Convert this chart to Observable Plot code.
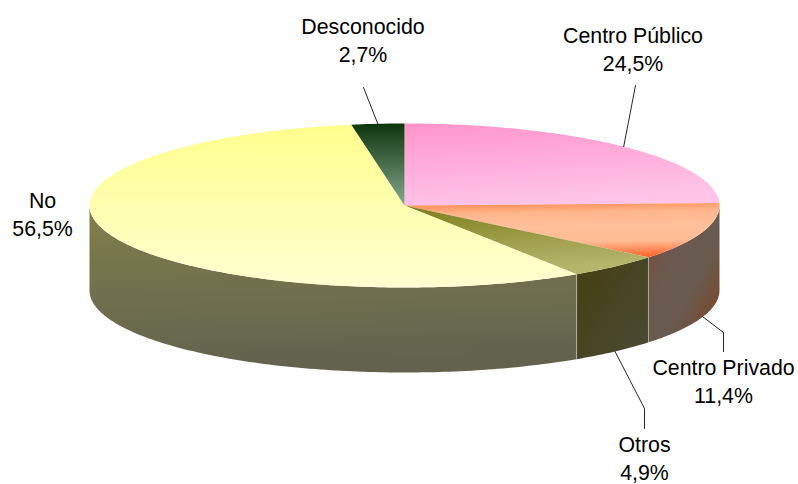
<!DOCTYPE html>
<html>
<head>
<meta charset="utf-8">
<style>html,body{margin:0;padding:0;background:#fff}svg{display:block}</style>
<script src="https://cdn.jsdelivr.net/npm/d3@7"></script>
<script src="https://cdn.jsdelivr.net/npm/@observablehq/plot@0.6"></script>
</head>
<body>
<div id="chart"></div>
<script>
// Data, clockwise from twelve o'clock
const categories = ["Centro Público", "Centro Privado", "Otros", "No", "Desconocido"];
const shares = [24.5, 11.4, 4.9, 56.5, 2.7];
const shareLabels = ["24,5%", "11,4%", "4,9%", "56,5%", "2,7%"];

// Layout (pixels)
const W = 798, H = 484;
const pieLeft = 89, pieRight = 719, pieTop = 123, pieBottom = 287, depthPx = 85;
const labelCentres = [[632.5, 34], [723, 366], [644, 443], [42, 199], [362.5, 25]];
const labelGap = 27.5;
const fontPx = 21.33;
const elbows = [
  [[635, 85]],
  [[723, 332], [723, 351]],
  [[644, 408], [644, 428]],
  null,
  [[363, 87]]
];

// Styling
const topStops = [
  {x1: 0, y1: 0, x2: .25, y2: 1, s: [[0, "#FF95CB"], [1, "#FFC4E8"]]},
  {x1: .2, y1: 0, x2: .3, y2: 1, s: [[0, "#FF8A55"], [.2, "#FFB58C"], [.45, "#FFC09A"], [.74, "#FFBC95"], [1, "#FF6D35"]]},
  {x1: 0, y1: 0, x2: .3, y2: 1, s: [[0, "#7D7D1C"], [1, "#B5B56C"]]},
  {x1: 0, y1: 0, x2: 0, y2: 1, s: [[0, "#FFFF8E"], [1, "#FFFFD2"]]},
  {x1: 0, y1: 0, x2: 0, y2: 1, s: [[0, "#0C360C"], [1, "#87A78F"]]}
];
const wallStops = [
  null,
  {x1: 0, y1: 0, x2: 1, y2: 1, s: [[0, "#7E4A3A"], [.38, "#6A5A50"], [.62, "#685A4F"], [.86, "#7A4A30"], [1, "#85381A"]]},
  {x1: 0, y1: 0, x2: 1, y2: 1, s: [[0, "#444010"], [1, "#4A4A36"]]},
  {x1: 0, y1: 0, x2: .1, y2: 1, s: [[0, "#80804C"], [1, "#62624F"]]},
  null
];

// Geometry derived from the shares
const rad = d => d * Math.PI / 180;
const px2x = p => (p - pieLeft) / (pieRight - pieLeft) * 2 - 1;
const px2y = p => 1 - (p - pieTop) / (pieBottom - pieTop) * 2;
const depth = depthPx / ((pieBottom - pieTop) / 2);
const rim = (a, drop = 0) => ({x: Math.sin(rad(a)), y: Math.cos(rad(a)) - drop});
const arc = (a0, a1, drop = 0) => {
  const n = Math.max(2, Math.ceil(Math.abs(a1 - a0)));
  return d3.range(n + 1).map(i => rim(a0 + (a1 - a0) * i / n, drop));
};
const total = d3.sum(shares);
let run = 0;
const slices = shares.map((v, i) => {
  const a0 = run / total * 360; run += v;
  const a1 = run / total * 360;
  return {i, a0, a1, mid: (a0 + a1) / 2};
});

const defs = () => {
  const d = d3.create("svg:defs");
  const add = (id, g) => {
    if (!g) return;
    const lg = d.append("linearGradient").attr("id", id)
      .attr("x1", g.x1).attr("y1", g.y1).attr("x2", g.x2).attr("y2", g.y2);
    g.s.forEach(([o, c]) => lg.append("stop").attr("offset", o).attr("stop-color", c));
  };
  topStops.forEach((g, i) => add("top" + i, g));
  wallStops.forEach((g, i) => add("wall" + i, g));
  return d.node();
};

const wallMarks = slices.flatMap(s => {
  const a0 = Math.max(s.a0, 90), a1 = Math.min(s.a1, 270);
  if (a1 <= a0) return [];
  const pts = [...arc(a0, a1), ...arc(a1, a0, depth)];
  return [
    Plot.line(pts, {x: "x", y: "y", fill: `url(#wall${s.i})`, stroke: "none"}),
  ];
});
const edgeMarks = slices.filter(s => s.a0 > 90 && s.a0 < 270).map(s =>
  Plot.line([rim(s.a0), rim(s.a0, depth)], {x: "x", y: "y", stroke: "#fff", strokeOpacity: .35, strokeWidth: 1})
);
const topMarks = slices.map(s =>
  Plot.line([{x: 0, y: 0}, ...arc(s.a0, s.a1), {x: 0, y: 0}],
    {x: "x", y: "y", fill: `url(#top${s.i})`, stroke: "none"})
);
const leaderMarks = slices.filter(s => elbows[s.i]).map(s => {
  const front = s.mid > 90 && s.mid < 270;
  const start = rim(s.mid, front ? depth : 0);
  const pts = [start, ...elbows[s.i].map(([x, y]) => ({x: px2x(x), y: px2y(y)}))];
  return Plot.line(pts, {x: "x", y: "y", stroke: "#000", strokeWidth: 1, strokeOpacity: .85});
});
const labels = slices.map(s => ({
  x: px2x(labelCentres[s.i][0]),
  y: px2y(labelCentres[s.i][1]),
  t: categories[s.i] + "\n" + shareLabels[s.i]
}));

const plot = Plot.plot({
  width: W, height: H, margin: 0,
  style: {background: "#fff"},
  x: {axis: null, domain: [-1, 1], range: [pieLeft, pieRight]},
  y: {axis: null, domain: [-1, 1], range: [pieBottom, pieTop]},
  marks: [
    defs,
    ...wallMarks,
    ...edgeMarks,
    ...topMarks,
    ...leaderMarks,
    Plot.text(labels, {
      x: "x", y: "y", text: "t", lineAnchor: "middle", textAnchor: "middle",
      lineHeight: labelGap / fontPx, fontSize: fontPx, fill: "#000",
      fontFamily: "Liberation Sans, Arial, sans-serif", dy: labelGap / 2
    })
  ]
});
document.getElementById("chart").appendChild(plot);
</script>
</body>
</html>
